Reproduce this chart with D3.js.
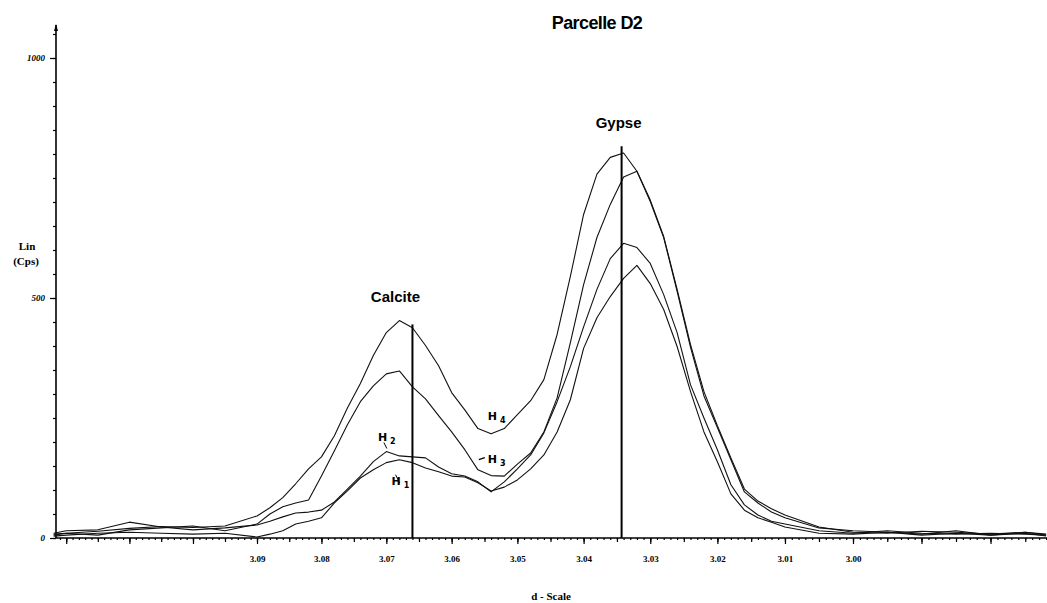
<!DOCTYPE html>
<html>

<head>
  <title>Parcelle D2</title>
</head>

<body>

  <svg id="svg" width="1047" height="603"></svg>

  <script src="https://d3js.org/d3.v7.min.js"></script>
  <script>
    // d-spacing (Angstrom) of each sampled point, shared by the four horizons
    const dSpacing = [3.122, 3.120, 3.115, 3.110, 3.105, 3.100, 3.095,
      3.090, 3.088, 3.086, 3.084, 3.082, 3.080, 3.078, 3.076, 3.074, 3.072,
      3.070, 3.068, 3.066, 3.064, 3.062, 3.060, 3.058, 3.056, 3.054, 3.052,
      3.050, 3.048, 3.046, 3.044, 3.042, 3.040, 3.038, 3.036, 3.034, 3.032,
      3.030, 3.028, 3.026, 3.024, 3.022, 3.020, 3.018, 3.016, 3.014, 3.012,
      3.010, 3.005, 3.000, 2.995, 2.990, 2.985, 2.980, 2.975, 2.972]

    // intensities (Cps)
    const h1 = [4, 6, 10, 12, 10, 8, 10,
      2, 8, 15, 29, 35, 42, 73, 98, 125, 142,
      157, 163, 157, 146, 138, 129, 127, 115, 98, 106,
      121, 144, 173, 221, 288, 395, 459, 503, 541, 568,
      530, 476, 399, 305, 221, 159, 92, 58, 42, 33,
      23, 10, 8, 12, 6, 10, 6, 10, 4]
    const h2 = [10, 15, 17, 33, 23, 17, 21,
      27, 35, 44, 52, 54, 58, 75, 102, 129, 159,
      180, 171, 169, 167, 148, 134, 129, 117, 96, 117,
      144, 173, 219, 284, 357, 440, 518, 582, 614, 605,
      572, 507, 428, 319, 250, 184, 111, 69, 48, 35,
      29, 15, 10, 15, 10, 8, 10, 8, 6]
    const h3 = [8, 10, 6, 17, 21, 25, 15,
      29, 50, 65, 73, 79, 129, 182, 236, 284, 317,
      342, 348, 315, 290, 255, 221, 184, 142, 130, 129,
      154, 177, 221, 292, 407, 528, 626, 695, 752, 764,
      701, 626, 514, 397, 296, 230, 163, 96, 73, 54,
      42, 21, 15, 12, 8, 15, 6, 12, 8]
    const h4 = [6, 10, 14, 20, 24, 22, 25,
      46, 63, 84, 113, 144, 169, 213, 271, 322, 380,
      428, 453, 438, 401, 359, 303, 267, 228, 217, 228,
      257, 286, 330, 424, 545, 674, 758, 793, 802, 764,
      704, 628, 518, 403, 305, 234, 167, 102, 77, 61,
      48, 23, 12, 10, 14, 12, 8, 12, 6]

    const xTickLabels = [3.09, 3.08, 3.07, 3.06, 3.05, 3.04, 3.03, 3.02, 3.01, 3.00]
    const yTickLabels = [0, 500, 1000]

    // mineral reflections: position and height of the marker line
    const peaks = [
      { name: 'Calcite', d: 3.066, top: 445, labelTop: 492 },
      { name: 'Gypse', d: 3.0343, top: 816, labelTop: 855 }
    ]

    // horizon labels, anchored in data units
    const horizonLabels = [
      { name: 'H', sub: '4', d: 3.0545, v: 246 },
      { name: 'H', sub: '3', d: 3.0545, v: 157, dash: true },
      { name: 'H', sub: '2', d: 3.0713, v: 203, lead: [6, 2, 9, 8] },
      { name: 'H', sub: '1', d: 3.0692, v: 111, lead: [4, -10, 8, -2] }
    ]

    const svg = d3.select('#svg')
    const left = 56, right = 1047, bottom = 538

    // the diffractometer scans linearly in 2-theta, so the d ticks are not evenly spaced
    const lambda = 1.5406
    const twoTheta = d => 2 * Math.asin(lambda / (2 * d)) * 180 / Math.PI
    const thetaScale = d3.scaleLinear()
      .domain([twoTheta(3.09), twoTheta(3.00)])
      .range([257, 853])
    const knots = d3.range(313, 295, -1).map(v => v / 100)
    const xscale = d3.scaleLinear()
      .domain(knots)
      .range(knots.map(d => thetaScale(twoTheta(d))))

    const yscale = d3.scaleLinear()
      .domain([0, 1000])
      .range([bottom, 58])

    const inPlot = d => xscale(d) >= left && xscale(d) <= right + 1

    // x axis : minor, medium and major ticks
    const minorTicks = d3.range(2960, 3131).map(v => v / 1000).filter(inPlot)
    svg.append('g')
      .attr('transform', `translate(0,${bottom})`)
      .call(d3.axisBottom(xscale).tickValues(minorTicks).tickSize(2).tickFormat('').tickSizeOuter(0))
    svg.append('g')
      .attr('transform', `translate(0,${bottom})`)
      .call(d3.axisBottom(xscale).tickValues(minorTicks.filter((d, i) => Math.round(d * 1000) % 5 === 0))
        .tickSize(4).tickFormat('').tickSizeOuter(0))
    const majorTicks = d3.range(296, 313).map(v => v / 100).filter(inPlot)
    const xAxis = svg.append('g')
      .attr('transform', `translate(0,${bottom})`)
      .call(d3.axisBottom(xscale).tickValues(majorTicks).tickSize(6).tickPadding(12).tickSizeOuter(0)
        .tickFormat(d => xTickLabels.some(t => Math.abs(t - d) < 1e-6) ? d3.format('.2f')(d) : ''))
    svg.selectAll('.domain').remove()
    xAxis.selectAll('text')
      .attr('font-family', 'Liberation Serif')
      .attr('font-weight', 'bold')
      .attr('font-size', 9)
    svg.selectAll('.tick line').attr('stroke', '#000').attr('stroke-width', 1.2)
    svg.append('line')
      .attr('x1', left).attr('x2', right)
      .attr('y1', bottom).attr('y2', bottom)
      .attr('stroke', '#000').attr('stroke-width', 1.6)

    // y axis
    svg.append('g')
      .attr('transform', `translate(${left},0)`)
      .call(d3.axisLeft(yscale).tickValues(d3.range(0, 1051, 50)).tickSize(3).tickFormat('').tickSizeOuter(0))
    const yAxis = svg.append('g')
      .attr('transform', `translate(${left},0)`)
      .call(d3.axisLeft(yscale).tickValues(yTickLabels).tickSize(6).tickPadding(5).tickSizeOuter(0)
        .tickFormat(d3.format('d')))
    yAxis.selectAll('text')
      .attr('font-family', 'Liberation Serif')
      .attr('font-weight', 'bold')
      .attr('font-style', 'italic')
      .attr('font-size', 9)
    svg.selectAll('.domain').remove()
    svg.selectAll('.tick line').attr('stroke', '#000').attr('stroke-width', 1.2)
    svg.append('line')
      .attr('x1', left).attr('x2', left)
      .attr('y1', 25).attr('y2', bottom)
      .attr('stroke', '#000').attr('stroke-width', 1.6)
    svg.append('path')
      .attr('d', `M${left - 2},31 L${left},24 L${left + 2},31 Z`)
      .attr('fill', '#000')

    // diffractograms
    const linegen = d3.line()
      .x(d => xscale(d[0]))
      .y(d => yscale(d[1]))
      .curve(d3.curveLinear)

    const series = [h1, h2, h3, h4]
    svg.append('g')
      .selectAll('path')
      .data(series)
      .join('path')
      .attr('d', vals => linegen(dSpacing.map((d, i) => [d, vals[i]])))
      .attr('fill', 'none')
      .attr('stroke', '#111')
      .attr('stroke-width', 1.1)
      .attr('stroke-linejoin', 'round')

    // peak markers
    peaks.forEach(p => {
      svg.append('line')
        .attr('x1', xscale(p.d)).attr('x2', xscale(p.d))
        .attr('y1', yscale(p.top)).attr('y2', bottom)
        .attr('stroke', '#000').attr('stroke-width', 2)
      svg.append('text')
        .attr('x', xscale(p.d) - (p.name === 'Calcite' ? 17 : 3))
        .attr('y', yscale(p.labelTop))
        .attr('text-anchor', 'middle')
        .attr('font-family', 'Liberation Sans')
        .attr('font-weight', 'bold')
        .attr('font-size', 15)
        .text(p.name)
    })

    // horizon labels
    horizonLabels.forEach(l => {
      const x = xscale(l.d), y = yscale(l.v)
      const t = svg.append('text')
        .attr('x', x).attr('y', y)
        .attr('font-family', 'DejaVu Sans')
        .attr('font-weight', 'bold')
        .attr('font-size', 11)
      t.append('tspan').text(l.name)
      t.append('tspan').attr('dx', 3).attr('dy', 3).attr('font-size', 8).text(l.sub)
      if (l.dash) {
        svg.append('line')
          .attr('x1', x - 9).attr('x2', x - 3)
          .attr('y1', y - 3).attr('y2', y - 5)
          .attr('stroke', '#000').attr('stroke-width', 1.2)
      }
      if (l.lead) {
        svg.append('line')
          .attr('x1', x + l.lead[0]).attr('y1', y + l.lead[1])
          .attr('x2', x + l.lead[2]).attr('y2', y + l.lead[3])
          .attr('stroke', '#000').attr('stroke-width', 1)
      }
    })

    // titles
    svg.append('text')
      .attr('x', 597).attr('y', 29)
      .attr('text-anchor', 'middle')
      .attr('font-family', 'Liberation Sans')
      .attr('font-weight', 'bold')
      .attr('font-size', 18)
      .attr('letter-spacing', -0.6)
      .text('Parcelle D2')

    const yTitle = svg.append('text')
      .attr('font-family', 'Liberation Serif')
      .attr('font-weight', 'bold')
      .attr('font-size', 11)
      .attr('text-anchor', 'middle')
    yTitle.append('tspan').attr('x', 27).attr('y', 250).text('Lin')
    yTitle.append('tspan').attr('x', 26).attr('y', 265).text('(Cps)')

    svg.append('text')
      .attr('x', 551).attr('y', 600)
      .attr('text-anchor', 'middle')
      .attr('font-family', 'Liberation Serif')
      .attr('font-weight', 'bold')
      .attr('font-size', 11)
      .text('d - Scale')
  </script>
</body>

<style>
  body,
  html {
    margin: 0;
    padding: 0;
    background: #fff;
  }

  #svg {
    display: block;
  }
</style>

</html>
